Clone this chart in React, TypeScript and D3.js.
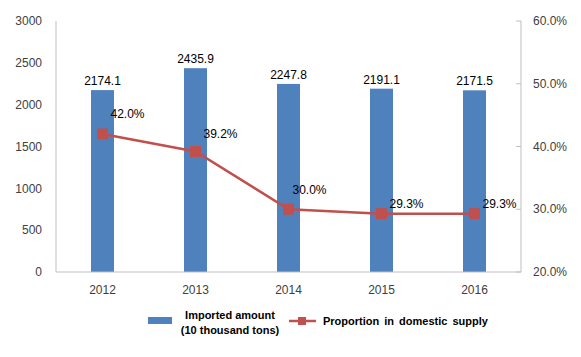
import React from "react";
import * as d3 from "d3";

const years = ["2012", "2013", "2014", "2015", "2016"];
const imported = [2174.1, 2435.9, 2247.8, 2191.1, 2171.5];
const proportion = [42.0, 39.2, 30.0, 29.3, 29.3];
const leftTicks = [0, 500, 1000, 1500, 2000, 2500, 3000];
const rightTicks = [20, 30, 40, 50, 60];
// label placement offsets (pixels) for the percentage labels
const pctLabelDx = [8, 8, 4, 8, 8];
const pctLabelDy = [-16, -14, -15, -6, -6];

const W = 581, H = 357;
const left = 56, right = 521, top = 21, bottom = 272;

export default function App() {
  const x = d3.scaleBand<string>().domain(years).range([left, right]).paddingInner(0).paddingOuter(0);
  const yL = d3.scaleLinear().domain([0, 3000]).range([bottom, top]);
  const yR = d3.scaleLinear().domain([20, 60]).range([bottom, top]);
  const barW = 23;
  const cx = (d: string) => (x(d) as number) + x.bandwidth() / 2;
  const line = d3.line<number>().x((_, i) => cx(years[i])).y((v) => yR(v));
  const font = "'Liberation Sans', Arial, sans-serif";
  return (
    <svg width={W} height={H} style={{ position: "absolute", left: 0, top: 0 }} fontFamily={font}>
      <rect width={W} height={H} fill="#fff" />
      {imported.map((v, i) => (
        <rect key={i} x={cx(years[i]) - barW / 2} y={yL(v)} width={barW} height={bottom - yL(v)} fill="#4F81BD" />
      ))}
      <line x1={left} x2={left} y1={top} y2={bottom} stroke="#BFBFBF" />
      <line x1={right} x2={right} y1={top} y2={bottom} stroke="#BFBFBF" />
      <line x1={left} x2={right} y1={bottom} y2={bottom} stroke="#BFBFBF" />
      {rightTicks.map((t) => (
        <line key={t} x1={right - 5} x2={right} y1={yR(t)} y2={yR(t)} stroke="#BFBFBF" />
      ))}
      {leftTicks.map((t) => (
        <text key={t} x={left - 14} y={yL(t)} dy="0.35em" textAnchor="end" fontSize={12} fill="#404040">{t}</text>
      ))}
      {rightTicks.map((t) => (
        <text key={t} x={right + 12} y={yR(t)} dy="0.35em" textAnchor="start" fontSize={12} fill="#404040">{t.toFixed(1)}%</text>
      ))}
      {years.map((y) => (
        <text key={y} x={cx(y)} y={bottom + 22} textAnchor="middle" fontSize={12} fill="#404040">{y}</text>
      ))}
      {imported.map((v, i) => (
        <text key={i} x={cx(years[i])} y={yL(v) - 5} textAnchor="middle" fontSize={12} fill="#000">{v.toFixed(1)}</text>
      ))}
      <path d={line(proportion) || ""} fill="none" stroke="#C0504D" strokeWidth={2.5} />
      {proportion.map((v, i) => (
        <rect key={i} x={cx(years[i]) - 5.5} y={yR(v) - 5.5} width={11} height={11} fill="#C0504D" />
      ))}
      {proportion.map((v, i) => (
        <text key={i} x={cx(years[i]) + pctLabelDx[i]} y={yR(v) + pctLabelDy[i]} textAnchor="start" fontSize={12} fill="#000">{v.toFixed(1)}%</text>
      ))}
      <rect x={148} y={317} width={24} height={7} fill="#4F81BD" />
      <text x={230} y={319} textAnchor="middle" fontSize={11} fontWeight="bold" fill="#000">Imported amount</text>
      <text x={230} y={334} textAnchor="middle" fontSize={11} fontWeight="bold" fill="#000">(10 thousand tons)</text>
      <line x1={289} x2={316} y1={321} y2={321} stroke="#C0504D" strokeWidth={2.5} />
      <rect x={298} y={317} width={8} height={8} fill="#C0504D" />
      <text x={323} y={325} textAnchor="start" fontSize={11} fontWeight="bold" fill="#000" wordSpacing={2}>Proportion in domestic supply</text>
    </svg>
  );
}
